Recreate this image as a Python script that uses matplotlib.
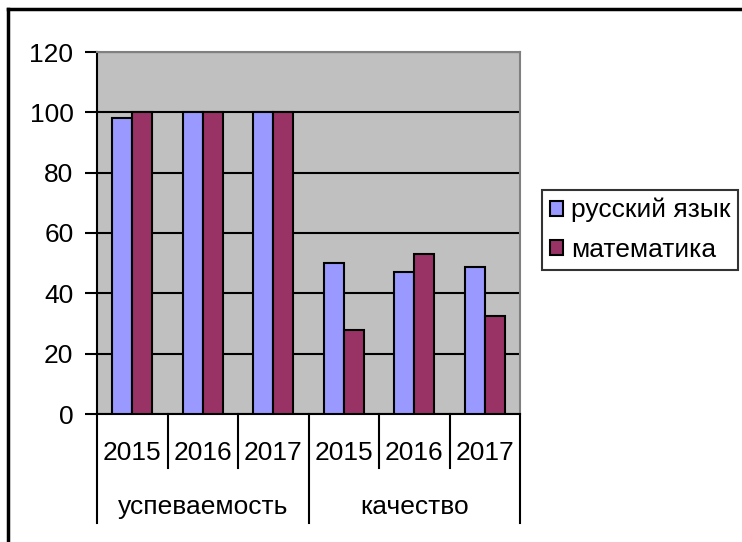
import numpy as np
import matplotlib.pyplot as plt
from matplotlib.lines import Line2D
from matplotlib.patches import Patch

plt.rcParams['font.family'] = ['Liberation Sans', 'DejaVu Sans']

""" data """

groups = ['успеваемость', 'качество']
years = ['2015', '2016', '2017']
series_names = ['русский язык', 'математика']
russian = [98, 100, 100, 50, 47, 48.6]
maths = [100, 100, 100, 28, 53, 32.6]
colors = ['#9999FF', '#993366']
y_ticks = [0, 20, 40, 60, 80, 100, 120]

""" figure """

W, H = 742, 542
fig = plt.figure(figsize=(W / 100, H / 100), dpi=100)
fig.patch.set_facecolor('white')

# plot area in pixels
left, right, top, bottom = 97, 520, 52, 414
ax = fig.add_axes([left / W, 1 - bottom / H, (right - left) / W, (bottom - top) / H])
ax.set_facecolor('#C0C0C0')

n = len(russian)
x = np.arange(n)
w = 1 / 3.5  # excel gap width 150%
ax.bar(x - w / 2, russian, w, color=colors[0], edgecolor='black', linewidth=1.5, zorder=3)
ax.bar(x + w / 2, maths, w, color=colors[1], edgecolor='black', linewidth=1.5, zorder=3)

ax.set_xlim(-0.5, n - 0.5)
ax.set_ylim(0, 120)
ax.set_yticks(y_ticks)
ax.set_yticklabels([str(t) for t in y_ticks], fontsize=19)
ax.tick_params(axis='y', direction='out', length=9, width=1.5, pad=8)
ax.set_xticks([])
ax.yaxis.grid(True, color='black', linewidth=1.5, zorder=0)
ax.set_axisbelow(True)

for s in ['top', 'right']:
    ax.spines[s].set_color('#808080')
    ax.spines[s].set_linewidth(1.5)
for s in ['left', 'bottom']:
    ax.spines[s].set_color('black')
    ax.spines[s].set_linewidth(1.5)

# multi level category axis
tr = ax.get_xaxis_transform()
y_year_line = -(468 - bottom) / (bottom - top)
y_group_line = -(523 - bottom) / (bottom - top)
y_year_txt = -(453 - bottom) / (bottom - top)
y_group_txt = -(507 - bottom) / (bottom - top)

for i in range(n + 1):
    b = i - 0.5
    y_end = y_group_line if i % 3 == 0 else y_year_line
    ax.add_line(Line2D([b, b], [0, y_end], transform=tr, color='black',
                       linewidth=1.5, clip_on=False))
for i in range(n):
    ax.text(i, y_year_txt, years[i % 3], transform=tr, ha='center', va='center',
            fontsize=19)
for g, name in enumerate(groups):
    ax.text(g * 3 + 1, y_group_txt, name, transform=tr, ha='center', va='center',
            fontsize=19)

# legend
handles = [Patch(facecolor=c, edgecolor='black', linewidth=1.5) for c in colors]
leg = fig.legend(handles, series_names, loc='upper left',
                 bbox_to_anchor=(542 / W, 1 - 190 / H), fontsize=19,
                 frameon=True, fancybox=False, edgecolor='black',
                 handlelength=0.5, handleheight=0.5, handletextpad=0.3,
                 borderpad=0.3, labelspacing=0.6, borderaxespad=0)
leg.get_frame().set_linewidth(1.5)

# chart border
fig.add_artist(Line2D([8 / W, 8 / W], [0, 1 - 9 / H], transform=fig.transFigure,
                      color='black', linewidth=2.5))
fig.add_artist(Line2D([8 / W, 1], [1 - 9 / H, 1 - 9 / H], transform=fig.transFigure,
                      color='black', linewidth=2.5))

fig.savefig('out.png', dpi=100)
